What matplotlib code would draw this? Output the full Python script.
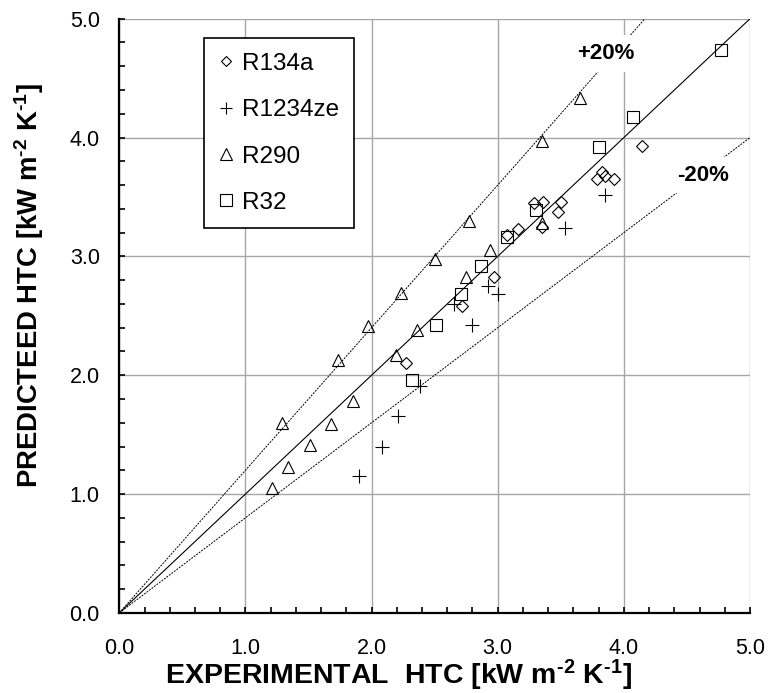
import matplotlib

matplotlib.use("Agg")

import matplotlib.pyplot as plt
import numpy as np
from matplotlib.lines import Line2D
from matplotlib.ticker import MultipleLocator, FormatStrFormatter

plt.rcParams["font.family"] = ["Liberation Sans", "DejaVu Sans"]
plt.rcParams["mathtext.fontset"] = "custom"
plt.rcParams["mathtext.rm"] = "Liberation Sans:bold"
plt.rcParams["mathtext.bf"] = "Liberation Sans:bold"
plt.rcParams["mathtext.it"] = "Liberation Sans:bold"

# experimental vs predicted HTC [kW m-2 K-1]
r134a_x = [2.27, 2.72, 2.97, 3.07, 3.16, 3.29, 3.36, 3.50, 3.48, 3.35, 3.79, 3.83, 3.85, 3.92, 4.14]
r134a_y = [2.10, 2.58, 2.83, 3.18, 3.23, 3.45, 3.46, 3.46, 3.37, 3.25, 3.65, 3.71, 3.68, 3.65, 3.93]

r1234ze_x = [1.90, 2.08, 2.21, 2.38, 2.65, 2.80, 2.92, 3.00, 3.53, 3.85]
r1234ze_y = [1.15, 1.40, 1.66, 1.91, 2.60, 2.42, 2.75, 2.68, 3.24, 3.52]

r290_x = [1.21, 1.29, 1.34, 1.51, 1.68, 1.73, 1.85, 1.97, 2.19, 2.23, 2.36, 2.50,
          2.75, 2.77, 2.94, 3.35, 3.35, 3.65]
r290_y = [1.05, 1.60, 1.23, 1.41, 1.59, 2.13, 1.78, 2.41, 2.17, 2.69, 2.38, 2.98,
          2.83, 3.30, 3.05, 3.28, 3.97, 4.33]

r32_x = [2.32, 2.51, 2.71, 2.87, 3.07, 3.30, 3.80, 4.07, 4.77]
r32_y = [1.96, 2.42, 2.68, 2.92, 3.16, 3.39, 3.92, 4.17, 4.74]

fig = plt.figure(figsize=(7.68, 6.93), dpi=100)
ax = fig.add_axes([0.1553, 0.1156, 0.8213, 0.8574])

# parity line and +/-20 % band
xl = np.array([0.0, 5.0])
ax.plot(xl, xl, color="black", linewidth=0.8, zorder=2)
ax.plot(xl, 1.2 * xl, color="black", linewidth=0.7, linestyle=(0, (2.0, 1.2)), zorder=2)
ax.plot(xl, 0.8 * xl, color="black", linewidth=0.7, linestyle=(0, (2.0, 1.2)), zorder=2)

mk = dict(linestyle="none", color="black", markerfacecolor="none", markeredgewidth=0.8, zorder=3)
ax.plot(r134a_x, r134a_y, marker="D", markersize=6.0, **mk)
ax.plot(r1234ze_x, r1234ze_y, marker="+", markersize=9.5, **mk)
ax.plot(r290_x, r290_y, marker="^", markersize=9.0, **mk)
ax.plot(r32_x, r32_y, marker="s", markersize=8.5, **mk)

box = dict(boxstyle="square,pad=0.35", facecolor="white", edgecolor="none")
ax.text(3.857, 4.706, "+20%", fontsize=16, fontweight="bold", ha="center", va="center", bbox=box, zorder=4)
ax.text(4.628, 3.683, "-20%", fontsize=16, fontweight="bold", ha="center", va="center", bbox=box, zorder=4)

ax.set_xlim(0, 5)
ax.set_ylim(0, 5)
ax.xaxis.set_major_locator(MultipleLocator(1.0))
ax.yaxis.set_major_locator(MultipleLocator(1.0))
ax.xaxis.set_minor_locator(MultipleLocator(0.2))
ax.yaxis.set_minor_locator(MultipleLocator(0.2))
ax.xaxis.set_major_formatter(FormatStrFormatter("%.1f"))
ax.yaxis.set_major_formatter(FormatStrFormatter("%.1f"))
ax.tick_params(which="both", direction="in", length=4.5, width=1.2, labelsize=15.5)
ax.tick_params(axis="x", which="major", pad=18)
ax.tick_params(axis="y", which="major", pad=14)
ax.grid(True, which="major", color="#a6a6a6", linewidth=1.0)
ax.set_axisbelow(True)
for side in ("top", "right"):
    ax.spines[side].set_visible(False)
for side in ("left", "bottom"):
    ax.spines[side].set_linewidth(1.6)

handles = [
    Line2D([], [], marker="D", markersize=5.5, **mk),
    Line2D([], [], marker="+", markersize=9.0, **mk),
    Line2D([], [], marker="^", markersize=8.0, **mk),
    Line2D([], [], marker="s", markersize=8.0, **mk),
]
leg = ax.legend(handles, ["R134a", "R1234ze", "R290", "R32"],
                loc="upper left", bbox_to_anchor=(0.135, 0.967), borderaxespad=0,
                fontsize=17.5, numpoints=1, handlelength=0.6, handletextpad=0.35,
                borderpad=0.6, labelspacing=1.0, fancybox=False, framealpha=1,
                edgecolor="black")
leg.get_frame().set_linewidth(1.2)

unit = r" [kW m$^{\text{-2}}$ K$^{\text{-1}}$]"
fig.text(165 / 768, 1 - 684.5 / 693, "EXPERIMENTAL  HTC" + unit,
         fontsize=20.5, fontweight="bold", ha="left", va="baseline")
fig.text(38 / 768, 1 - 488 / 693, "PREDICTEED HTC" + unit,
         fontsize=19.8, fontweight="bold", ha="left", va="baseline",
         rotation=90, rotation_mode="anchor")

fig.savefig("out.png", dpi=100)
